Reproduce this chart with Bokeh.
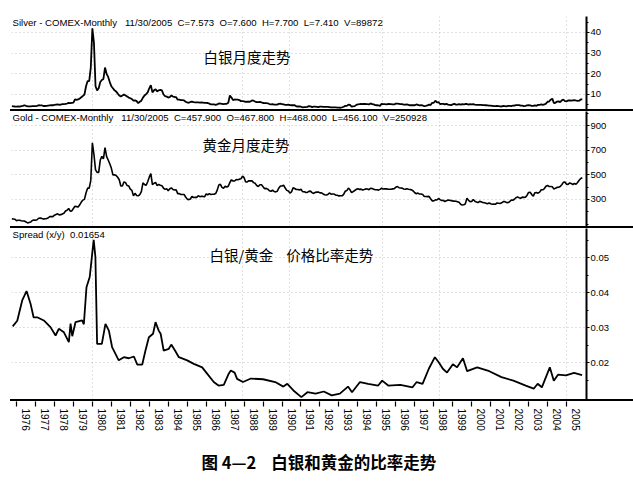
import numpy as np
from bokeh.plotting import figure
from bokeh.models import Range1d, FixedTicker, Label, Div, PrintfTickFormatter, Grid, Title
from bokeh.layouts import column
from bokeh.embed import file_html
from bokeh.resources import INLINE

# ---------------- data ----------------
start_year = 1975
start_month = 10  # first monthly value: Oct 1975

silver = [
    4.35, 4.30, 4.20,
    4.15, 4.20, 4.10, 4.40, 4.50, 4.80, 4.50, 4.30, 4.25, 4.30, 4.35, 4.40,
    4.40, 4.50, 4.80, 4.75, 4.70, 4.45, 4.45, 4.50, 4.65, 4.75, 4.85, 4.80,
    4.95, 5.10, 5.25, 5.05, 5.15, 5.30, 5.40, 5.45, 5.65, 6.00, 5.80, 5.95,
    6.10, 7.60, 7.40, 7.60, 8.10, 8.70, 9.30, 10.00, 14.00, 16.50, 16.50, 23.00,
    42.00, 35.00, 14.00, 12.00, 13.00, 16.00, 17.00, 17.50, 23.00, 20.00, 18.50, 16.00,
    14.0, 13.0, 12.0, 11.5, 10.5, 9.5, 9.0, 9.5, 10.0, 9.5, 9.0, 8.5,
    8.2, 7.8, 7.0, 7.2, 6.8, 5.8, 6.5, 7.0, 8.5, 9.5, 10.2, 11.0,
    13.0, 14.5, 11.0, 12.0, 12.5, 11.5, 12.0, 12.2, 12.0, 10.0, 9.2, 9.0,
    8.5, 8.8, 9.5, 9.0, 8.8, 8.7, 7.5, 7.5, 7.3, 7.3, 7.2, 6.5,
    6.2, 6.0, 6.4, 6.6, 6.3, 6.2, 6.2, 6.2, 6.1, 6.2, 6.1, 6.0,
    6.0, 5.9, 5.6, 5.2, 5.2, 5.2, 5.0, 5.2, 5.7, 5.6, 5.5, 5.4,
    5.5, 5.5, 6.0, 9.5, 8.5, 7.3, 7.6, 7.5, 7.5, 7.3, 6.8, 6.8,
    6.7, 6.4, 6.5, 6.5, 6.6, 7.1, 7.0, 6.6, 6.3, 6.3, 6.4, 6.2,
    5.9, 5.85, 5.8, 5.75, 5.4, 5.2, 5.3, 5.1, 5.1, 5.1, 5.5, 5.6,
    5.3, 5.2, 5.0, 5.0, 5.1, 4.9, 4.8, 4.9, 4.8, 4.3, 4.2, 4.2,
    4.1, 3.8, 3.9, 3.95, 4.05, 4.4, 4.3, 3.9, 4.1, 4.1, 4.05, 3.9,
    4.1, 4.1, 4.05, 4.0, 4.05, 4.05, 3.95, 3.8, 3.75, 3.75, 3.75, 3.7,
    3.7, 3.6, 3.8, 4.1, 4.5, 4.5, 5.1, 5.0, 4.2, 4.3, 4.4, 5.0,
    5.2, 5.3, 5.5, 5.4, 5.4, 5.4, 5.3, 5.2, 5.7, 5.3, 5.2, 4.9,
    4.8, 4.7, 4.5, 5.5, 5.4, 5.3, 5.2, 5.4, 5.4, 5.3, 5.2, 5.2,
    5.6, 5.6, 5.5, 5.4, 5.3, 5.1, 5.1, 5.2, 5.0, 4.8, 4.8, 4.8,
    4.8, 5.2, 5.0, 4.7, 4.8, 4.7, 4.4, 4.5, 4.7, 5.1, 4.9, 6.0,
    6.0, 7.0, 6.2, 6.3, 5.4, 5.5, 5.5, 5.2, 5.5, 5.1, 5.0, 4.9,
    5.2, 5.5, 5.1, 5.1, 5.3, 5.1, 5.3, 5.2, 5.4, 5.4, 5.1, 5.3,
    5.2, 5.3, 5.1, 5.0, 5.0, 5.0, 5.0, 4.9, 4.9, 4.8, 4.7, 4.6,
    4.6, 4.5, 4.4, 4.35, 4.45, 4.4, 4.3, 4.2, 4.5, 4.4, 4.3, 4.5,
    4.5, 4.4, 4.6, 4.6, 4.9, 4.9, 4.9, 4.6, 4.6, 4.4, 4.5, 4.7,
    4.8, 4.7, 4.5, 4.5, 4.75, 4.55, 5.0, 5.0, 5.2, 5.0, 5.2, 5.6,
    6.5, 6.6, 7.5, 8.0, 5.9, 6.0, 6.6, 6.7, 6.3, 7.2, 7.5, 6.8,
    6.7, 7.1, 7.2, 7.0, 7.2, 7.3, 7.1, 6.9, 7.0, 7.6, 7.6,
]

gold = [
    143, 142, 140,
    128, 132, 132, 128, 126, 125, 118, 110, 114, 117, 130, 134,
    132, 136, 148, 149, 147, 141, 144, 145, 150, 161, 162, 161,
    173, 179, 184, 175, 177, 183, 189, 206, 212, 227, 206, 208,
    227, 245, 242, 239, 257, 279, 295, 301, 355, 392, 392, 455,
    760, 665, 540, 520, 520, 620, 650, 630, 720, 650, 620, 590,
    555, 500, 500, 495, 480, 460, 410, 410, 443, 437, 413, 410,
    384, 374, 330, 350, 333, 330, 340, 364, 435, 422, 414, 444,
    481, 510, 420, 432, 438, 413, 422, 416, 412, 393, 382, 388,
    371, 387, 394, 381, 377, 378, 348, 348, 341, 340, 341, 320,
    303, 299, 304, 325, 316, 317, 317, 330, 323, 326, 325, 322,
    345, 339, 346, 340, 342, 343, 348, 376, 418, 423, 398, 391,
    408, 401, 408, 438, 460, 450, 450, 461, 460, 465, 468, 490,
    477, 442, 443, 452, 451, 451, 437, 431, 413, 406, 420, 419,
    404, 388, 390, 384, 371, 367, 375, 365, 362, 367, 394, 409,
    410, 416, 393, 374, 369, 352, 362, 395, 389, 381, 381, 378,
    383, 364, 363, 358, 357, 366, 368, 356, 349, 358, 360, 361,
    354, 354, 345, 338, 337, 341, 353, 343, 345, 344, 335, 334,
    329, 330, 330, 342, 367, 372, 392, 379, 355, 364, 373, 383,
    387, 382, 384, 377, 381, 386, 385, 380, 391, 389, 384, 379,
    379, 376, 382, 391, 385, 387, 386, 383, 383, 383, 386, 387,
    400, 405, 396, 393, 392, 385, 383, 387, 383, 381, 378, 369,
    355, 347, 352, 344, 344, 341, 324, 324, 323, 325, 306, 289,
    289, 297, 296, 308, 299, 292, 293, 284, 289, 296, 294, 291,
    287, 287, 286, 282, 277, 262, 256, 257, 265, 311, 293, 283,
    284, 300, 286, 280, 275, 285, 282, 275, 273, 270, 266, 272,
    265, 262, 263, 261, 272, 270, 268, 273, 283, 283, 276, 275,
    282, 296, 294, 302, 314, 321, 314, 310, 319, 317, 319, 333,
    357, 359, 340, 328, 355, 356, 351, 360, 379, 379, 389, 407,
    414, 405, 406, 404, 384, 392, 398, 400, 406, 420, 439, 442,
    424, 423, 434, 429, 422, 430, 424, 438, 456, 470, 476,
]

ratio_t = [
    1975.80, 1976.04, 1976.30, 1976.53, 1976.74, 1976.90, 1977.09, 1977.44, 1977.79,
    1978.06, 1978.23, 1978.50, 1978.76, 1978.85, 1978.94, 1979.11, 1979.46, 1979.55,
    1979.69, 1979.86, 1979.99, 1980.07, 1980.16, 1980.25, 1980.50, 1980.69, 1980.87,
    1981.04, 1981.39, 1981.66, 1981.92, 1982.19, 1982.37, 1982.63, 1982.80, 1982.98,
    1983.20, 1983.33, 1983.50, 1983.60, 1983.76, 1984.03, 1984.16, 1984.38, 1984.56,
    1985.00, 1985.35, 1985.79, 1986.05, 1986.40, 1986.65, 1986.93, 1987.19, 1987.30,
    1987.50, 1987.63, 1987.94, 1988.36, 1989.00, 1989.64, 1990.07, 1990.28, 1990.60,
    1991.02, 1991.34, 1991.77, 1992.20, 1992.62, 1993.05, 1993.48, 1993.69, 1994.11,
    1994.54, 1995.07, 1995.28, 1995.60, 1996.24, 1996.88, 1997.10, 1997.41, 1997.74,
    1998.06, 1998.27, 1998.48, 1998.70, 1999.01, 1999.23, 1999.54, 1999.76, 2000.29,
    2000.93, 2001.57, 2002.20, 2002.85, 2003.27, 2003.48, 2003.70, 2004.12, 2004.33,
    2004.55, 2004.97, 2005.40, 2005.82,
]
ratio_v = [
    0.0304, 0.0320, 0.0378, 0.0405, 0.0369, 0.0330, 0.0330, 0.0321, 0.0302,
    0.0278, 0.0297, 0.0287, 0.0259, 0.0312, 0.0276, 0.0316, 0.0321, 0.0310,
    0.0416, 0.0445, 0.0511, 0.0551, 0.0502, 0.0254, 0.0254, 0.0311, 0.0292,
    0.0245, 0.0207, 0.0216, 0.0213, 0.0218, 0.0195, 0.0195, 0.0235, 0.0273,
    0.0283, 0.0316, 0.0292, 0.0283, 0.0235, 0.0240, 0.0252, 0.0233, 0.0216,
    0.0207, 0.0197, 0.0187, 0.0169, 0.0145, 0.0135, 0.0137, 0.0169, 0.0178,
    0.0172, 0.0154, 0.0145, 0.0155, 0.0153, 0.0145, 0.0132, 0.0140, 0.0121,
    0.0102, 0.0116, 0.0112, 0.0118, 0.0107, 0.0112, 0.0132, 0.0116, 0.0145,
    0.0140, 0.0135, 0.0149, 0.0135, 0.0137, 0.0130, 0.0145, 0.0140, 0.0183,
    0.0216, 0.0201, 0.0183, 0.0172, 0.0196, 0.0187, 0.0213, 0.0176, 0.0187,
    0.0176, 0.0159, 0.0149, 0.0135, 0.0126, 0.0140, 0.0130, 0.0187, 0.0149,
    0.0166, 0.0164, 0.0171, 0.0165,
]

year_labels = list(range(1976, 2006))
silver_ticks = [10, 20, 30, 40]
gold_ticks = [300, 500, 700, 900]
gold_minor = [100, 200, 400, 600, 800, 1000]
spread_ticks = [0.02, 0.03, 0.04, 0.05]
vgrid_years = [1980.0, 1987.9, 1990.4, 1995.3, 1998.3, 2005.0]

NB = "\u00a0"
silver_header = f"Silver - COMEX-Monthly{NB*3}11/30/2005{NB*2}C=7.573{NB*2}O=7.600{NB*2}H=7.700{NB*2}L=7.410{NB*2}V=89872"
gold_header = f"Gold - COMEX-Monthly{NB*3}11/30/2005{NB*2}C=457.900{NB*2}O=467.800{NB*2}H=468.000{NB*2}L=456.100{NB*2}V=250928"
spread_header = f"Spread (x/y){NB*2}0.01654"
silver_title = "白银月度走势"
gold_title = "黄金月度走势"
spread_title = f"白银/黄金{NB*4}价格比率走势"
caption = f"图 4—2{NB*4}白银和黄金的比率走势"

# ---------------- layout ----------------
W = 633
BL, BR = 11, 47
X0, X1 = 1975.736, 2006.054
x_range = Range1d(X0, X1)
t_month = start_year + (start_month - 1) / 12 + np.arange(len(gold)) / 12.0

FONT = "Liberation Sans"


def panel(height, yr, top_border=0):
    p = figure(width=W, height=height, x_range=x_range, y_range=yr,
               x_axis_location=None, y_axis_location="right",
               toolbar_location=None, output_backend="svg",
               min_border_left=BL, min_border_right=BR,
               min_border_top=top_border, min_border_bottom=0, margin=0)
    p.outline_line_color = None
    p.grid.visible = False
    ax = p.yaxis[0]
    ax.axis_line_width = 2
    ax.axis_line_color = "black"
    ax.major_tick_out = 3
    ax.major_tick_in = 0
    ax.minor_tick_out = 2
    ax.minor_tick_in = 0
    ax.major_tick_line_width = 1
    ax.major_label_text_font = FONT
    ax.major_label_text_font_size = "9.5px"
    ax.major_label_text_color = "black"
    ax.major_label_standoff = 1
    p.add_layout(Grid(dimension=0, ticker=FixedTicker(ticks=vgrid_years),
                      grid_line_color="#9a9a9a", grid_line_dash="1 3",
                      grid_line_alpha=0.6))
    return p


def header(p, yr, text):
    p.add_layout(Label(x=X0, y=yr.end, x_offset=1, y_offset=-6, text=text,
                       text_font=FONT, text_font_size="9.6px", text_color="black",
                       text_baseline="middle", text_align="left"))


def ctitle(p, x, y, text):
    p.add_layout(Label(x=x, y=y, text=text, text_font="Noto Sans CJK SC",
                       text_font_size="14.5px", text_color="black",
                       text_baseline="middle", text_align="left"))


def hgrid(p, ticks):
    p.add_layout(Grid(dimension=1, ticker=FixedTicker(ticks=ticks),
                      grid_line_color="#9a9a9a", grid_line_dash="1 3",
                      grid_line_alpha=0.6))


# Silver panel
ys = Range1d(2.755, 47.67)
ps = panel(109, ys, top_border=16)
ps.yaxis[0].ticker = FixedTicker(ticks=silver_ticks, minor_ticks=[5, 15, 25, 35, 45])
hgrid(ps, silver_ticks)
ps.line(t_month, silver, line_color="black", line_width=1.8)
header(ps, ys, silver_header)
ctitle(ps, 1985.86, 28.4, silver_title)

# Gold panel
yg = Range1d(81.0, 1013.7)
pg = panel(115, yg)
pg.yaxis[0].ticker = FixedTicker(ticks=gold_ticks, minor_ticks=gold_minor)
hgrid(pg, gold_ticks)
pg.line(t_month, gold, line_color="black", line_width=1.6)
header(pg, yg, gold_header)
ctitle(pg, 1985.81, 746, gold_title)

# Spread panel
yp = Range1d(0.009514, 0.05837)
pp = panel(171, yp)
pp.yaxis[0].ticker = FixedTicker(ticks=spread_ticks,
                                 minor_ticks=[0.015, 0.025, 0.035, 0.045, 0.055])
pp.yaxis[0].formatter = PrintfTickFormatter(format="%.2f")
hgrid(pp, spread_ticks)
pp.line(ratio_t, ratio_v, line_color="black", line_width=1.8)
header(pp, yp, spread_header)
ctitle(pp, 1986.18, 0.0509, spread_title)

# Axis-only figure with year labels and caption
pa = figure(width=W, height=79, x_range=x_range, y_range=Range1d(0, 1),
            y_axis_location=None, toolbar_location=None, output_backend="svg",
            min_border_left=BL, min_border_right=BR,
            min_border_top=0, min_border_bottom=78, margin=0)
pa.outline_line_color = None
pa.grid.visible = False
xa = pa.xaxis[0]
mids = [y + 0.5 for y in year_labels]
xa.ticker = FixedTicker(ticks=mids, minor_ticks=year_labels)
xa.major_label_overrides = {m: str(y) for m, y in zip(mids, year_labels)}
xa.axis_line_color = None
xa.major_tick_line_color = None
xa.major_tick_out = 0
xa.major_tick_in = 0
xa.minor_tick_line_color = "black"
xa.minor_tick_line_width = 1.2
xa.minor_tick_out = 5
xa.minor_tick_in = 0
xa.major_label_orientation = "vertical"
xa.major_label_text_font = FONT
xa.major_label_text_font_size = "10px"
xa.major_label_text_color = "black"
xa.major_label_standoff = 2
pa.add_layout(Title(text=caption, align="left", offset=190, standoff=28,
                    text_font="Noto Sans CJK SC", text_font_size="16.5px",
                    text_font_style="bold", text_color="black"), "below")


def rule():
    return Div(width=W - 10, height=2, margin=(0, 0, 0, 10),
               styles={"background-color": "black"})


layout = column(ps, rule(), pg, rule(), pp, rule(), pa, spacing=0, margin=0)

open("out.html", "w").write(file_html(layout, INLINE))
